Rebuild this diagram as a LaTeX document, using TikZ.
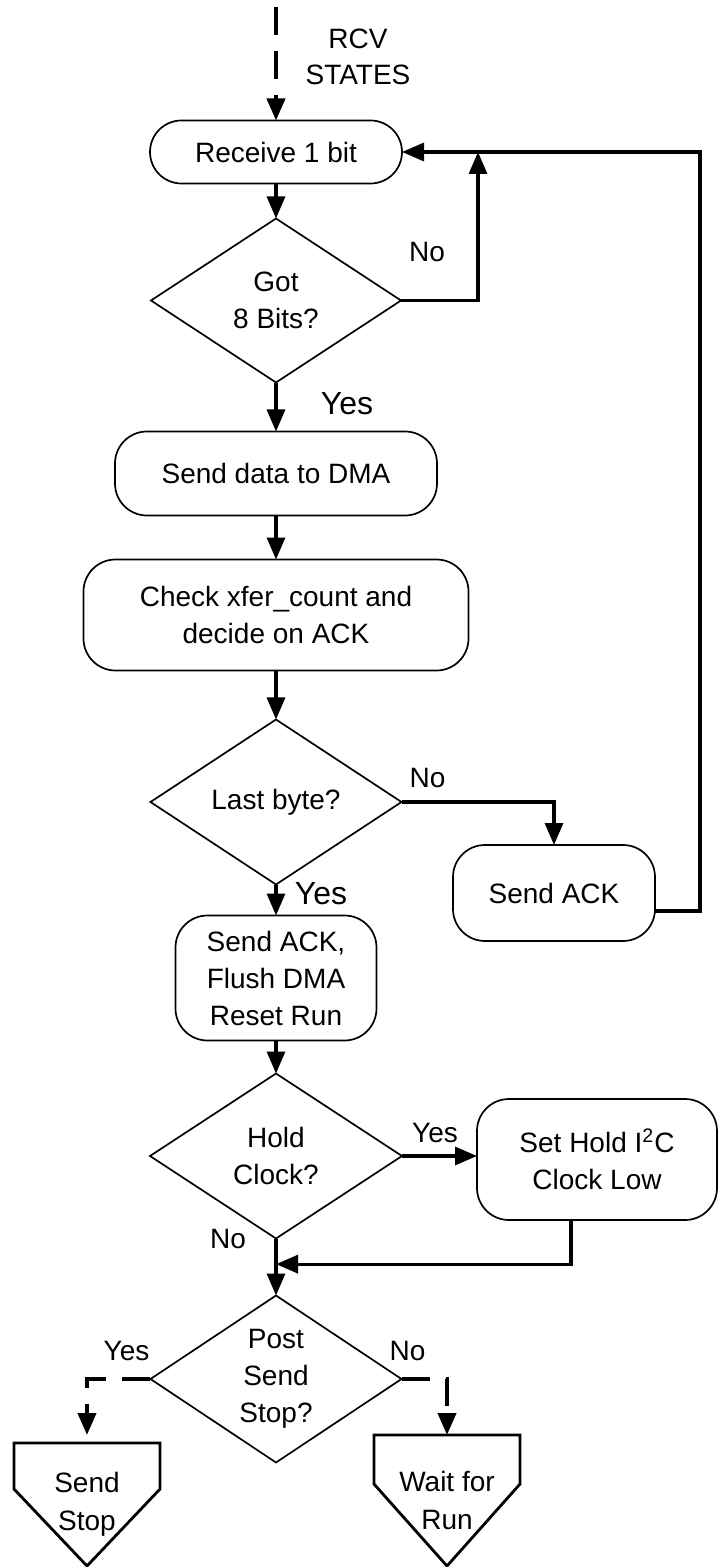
\documentclass[tikz,border=0pt]{standalone}
\usepackage{fontspec}
\setmainfont{Liberation Sans}
\usepackage{tikz}
\usetikzlibrary{arrows.meta,positioning,calc,shapes.geometric}
\tikzset{
  proc/.style={draw, line width=0.85pt, rounded corners=16pt, align=center,
               inner sep=0pt, outer sep=0pt, font=\fontsize{14}{18.5}\selectfont},
  decide/.style={draw, diamond, aspect=1.5, line width=0.85pt, align=center,
               inner sep=0pt, outer sep=0pt, font=\fontsize{14}{18.5}\selectfont},
  offpage/.style={align=center, inner sep=0pt, outer sep=0pt, minimum width=73pt,
               font=\fontsize{14}{19}\selectfont},
  lbl/.style={inner sep=0pt, font=\fontsize{14}{18}\selectfont},
  biglbl/.style={inner sep=0pt, font=\fontsize{16}{19}\selectfont},
  arrow/.style={-{Triangle[length=11pt,width=9pt]}, line width=1.6pt},
  dasharrow/.style={arrow, line width=2pt, dash pattern=on 14pt off 8pt}
}
\begin{document}
\begin{tikzpicture}
  \useasboundingbox (-138pt,76pt) rectangle (221.5pt,-707.5pt);
  \node[proc, minimum width=126pt, minimum height=31.5pt, rounded corners=15.75pt] (rcv) at (0,0) {Receive 1 bit};
  \node[decide, below=17.5pt of rcv, minimum width=125pt, minimum height=82pt] (got) {Got\\8 Bits?};
  \node[proc, below=24.5pt of got, minimum width=161pt, minimum height=42pt] (dma) {Send data to DMA};
  \node[proc, below=22pt of dma, minimum width=192.5pt, minimum height=55.5pt] (chk) {Check xfer\_count and\\decide on ACK};
  \node[decide, below=24.5pt of chk, minimum width=125.5pt, minimum height=82.5pt] (last) {Last byte?};
  \node[proc, below=15.5pt of last, minimum width=100.5pt, minimum height=62.5pt] (flush) {Send ACK,\\Flush DMA\\Reset Run};
  \node[decide, below=16.5pt of flush, minimum width=126pt, minimum height=82.5pt] (hold) {Hold\\Clock?};
  \node[decide, below=28.5pt of hold, minimum width=125.5pt, minimum height=83.5pt] (post) {Post\\Send\\Stop?};
  \node[proc, right=25.75pt of last, yshift=-45.5pt, minimum width=101pt, minimum height=48pt] (sack) {Send ACK};
  \node[proc, right=37.5pt of hold, yshift=-1.75pt, minimum width=120pt, minimum height=60.5pt] (seth) {Set Hold I\textsuperscript{2}C\\Clock Low};
  \node[offpage, below=32pt of post.west, xshift=-31.75pt, minimum height=61.5pt] (sstop) {Send\\Stop};
  \node[offpage, below=28pt of post.east, xshift=22.75pt, minimum height=65.5pt] (wait) {Wait for\\Run};
  \foreach \n/\h in {sstop/23pt,wait/24.5pt}
    \draw[line width=1.4pt] (\n.north west) -- (\n.north east) -- ([yshift=-\h]\n.north east)
      -- (\n.south) -- ([yshift=-\h]\n.north west) -- cycle;

  \node[lbl, align=center] (rcvstates) at ($(rcv)+(41pt,47.5pt)$) {RCV\\STATES};
  \node[lbl] (gotno) at ($(got.east)+(13pt,24pt)$) {No};
  \node[biglbl] (gotyes) at ($(got.south)+(35.5pt,-10.5pt)$) {Yes};
  \node[lbl] (lastno) at ($(last.east)+(13pt,12pt)$) {No};
  \node[biglbl] (lastyes) at ($(last.south)+(22.5pt,-4.5pt)$) {Yes};
  \node[lbl] (holdyes) at ($(hold.east)+(16.5pt,11.5pt)$) {Yes};
  \node[lbl] (holdno) at ($(hold.south)+(-24pt,0)$) {No};
  \node[lbl] (postyes) at ($(post.west)+(-12pt,14pt)$) {Yes};
  \node[lbl] (postno) at ($(post.east)+(3pt,14pt)$) {No};

  \coordinate[above=56.75pt of rcv.north] (entry);
  \coordinate[right=38pt of rcv.east] (join);
  \draw[dasharrow] (entry) -- (rcv);
  \foreach \u/\v in {rcv/got,got/dma,dma/chk,chk/last,last/flush,flush/hold,hold/post}
    \draw[arrow] (\u)--(\v);
  \draw[arrow] (got.east) -| (join);
  \draw[arrow] (last.east) -| (sack.north);
  \draw[arrow] ([yshift=-9pt]sack.east) -- ++(22.5pt,0) |- (rcv.east);
  \draw[arrow] (hold.east) -- (hold.east -| seth.west);
  \draw[arrow] ([xshift=-13pt]seth.south) |- ($(hold.south)!0.45!(post.north)$);
  \draw[dasharrow, shorten >=4pt] (post.west) -| (sstop.north);
  \draw[dasharrow] (post.east) -| (wait.north);
\end{tikzpicture}
\end{document}
